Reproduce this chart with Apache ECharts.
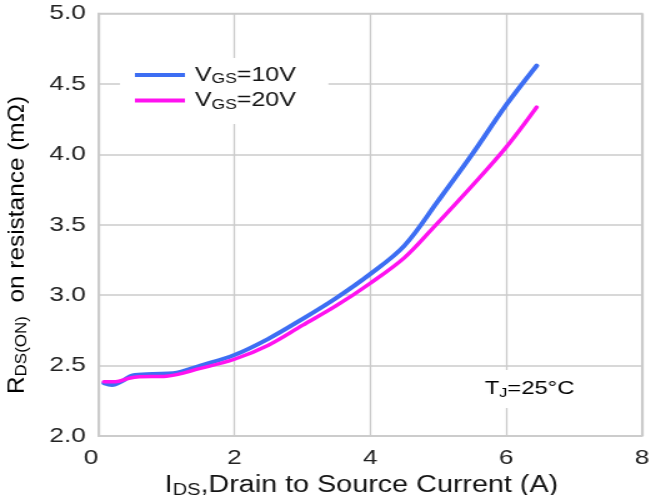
<!DOCTYPE html>
<html>
<head>
<meta charset="utf-8">
<script src="https://cdn.jsdelivr.net/npm/echarts@6/dist/echarts.min.js"></script>
<style>
  html, body { margin: 0; padding: 0; background: #fff; overflow: hidden; }
  #wrap { width: 651px; height: 495px; overflow: hidden; }
  /* the chart is laid out narrower and widened so its lettering gets the broad datasheet look */
  #chart { width: 521px; height: 495px; transform: scaleX(1.24952); transform-origin: 0 0; }
</style>
</head>
<body>
<div id="wrap"><div id="chart"></div></div>
<script>
const STRETCH = 651 / 521;
const FONT = '"Liberation Sans", Arial, Helvetica, sans-serif';

// axis ticks
const xTickLabels = ['0', '2', '4', '6', '8'];
const yTickLabels = ['2.0', '2.5', '3.0', '3.5', '4.0', '4.5', '5.0'];

// series names
const seriesNames = ['VGS=10V', 'VGS=20V'];

// drain current I_DS (A) and on-resistance R_DS(ON) (mΩ), VGS = 10 V
const currentVgs10 = [0.08, 0.2, 0.35, 0.5, 0.8, 1.1, 1.5, 2.0, 2.5, 3.0, 3.5, 4.0, 4.5, 5.0, 5.5, 6.0, 6.45];
const rdsonVgs10   = [2.375, 2.362, 2.39, 2.43, 2.44, 2.445, 2.50, 2.575, 2.69, 2.83, 2.98, 3.15, 3.35, 3.67, 4.0, 4.35, 4.63];

// VGS = 20 V
const currentVgs20 = [0.08, 0.25, 0.45, 0.6, 1.0, 1.5, 2.0, 2.5, 3.0, 3.5, 4.0, 4.5, 4.92, 5.5, 6.0, 6.45];
const rdsonVgs20   = [2.385, 2.385, 2.41, 2.42, 2.425, 2.48, 2.545, 2.645, 2.785, 2.925, 3.085, 3.265, 3.475, 3.777, 4.05, 4.335];

const seriesColors = ['#3d6ef3', '#ff12f0'];

const pairs = (xs, ys) => xs.map((x, i) => [x, ys[i]]);

const xMin = Number(xTickLabels[0]);
const xMax = Number(xTickLabels[xTickLabels.length - 1]);
const xStep = Number(xTickLabels[1]) - xMin;
const yMin = Number(yTickLabels[0]);
const yMax = Number(yTickLabels[yTickLabels.length - 1]);
const yStep = Number(yTickLabels[1]) - yMin;

const GRID_COLOR = '#cbcbcb';
const TEXT_COLOR = '#141414';

// rich styles for a main run and a lowered subscript run
function subRich(mainSize, subSize, lineH, subLineH) {
  return {
    v: { fontFamily: FONT, fontSize: mainSize, color: TEXT_COLOR, lineHeight: lineH },
    s: { fontFamily: FONT, fontSize: subSize, color: TEXT_COLOR, lineHeight: subLineH, verticalAlign: 'bottom' }
  };
}

const chart = echarts.init(document.getElementById('chart'), null, { renderer: 'canvas' });

const option = {
  animation: false,
  backgroundColor: '#fff',
  grid: {
    show: true,
    left: 78.8,
    right: 7.2,
    top: 13.5,
    bottom: 59,
    borderColor: GRID_COLOR,
    borderWidth: 1.5,
    containLabel: false,
    outerBoundsMode: 'none'
  },
  legend: {
    orient: 'vertical',
    left: 96,
    top: 58,
    icon: 'rect',
    itemWidth: 40,
    itemHeight: 4,
    itemGap: 4,
    padding: [7, 26, 12, 12],
    backgroundColor: '#fff',
    data: seriesNames,
    formatter: name => name.replace('VGS', '{v|V}{s|GS}{v|') + '}',
    textStyle: {
      fontFamily: FONT,
      fontSize: 20,
      color: TEXT_COLOR,
      padding: [0, 0, 0, 3],
      rich: subRich(20, 14, 23, 12)
    }
  },
  xAxis: {
    type: 'value',
    min: xMin,
    max: xMax,
    interval: xStep,
    axisLine: { show: true, lineStyle: { color: GRID_COLOR, width: 1.5 } },
    axisTick: { show: false },
    splitLine: { show: true, lineStyle: { color: GRID_COLOR, width: 1.3 } },
    axisLabel: {
      fontFamily: FONT,
      fontSize: 21,
      color: '#222',
      margin: 12,
      alignMinLabel: 'right',
      formatter: v => xTickLabels.find(t => Number(t) === v) ?? String(v)
    },
    name: '{v|I}{s|DS}{v|,Drain to Source Current (A)}',
    nameLocation: 'middle',
    nameGap: 20,
    nameTextStyle: {
      fontFamily: FONT,
      fontSize: 23,
      color: TEXT_COLOR,
      padding: [0, 14, 0, 0],
      rich: subRich(23, 16, 26, 13)
    }
  },
  yAxis: {
    type: 'value',
    min: yMin,
    max: yMax,
    interval: yStep,
    axisLine: { show: true, lineStyle: { color: GRID_COLOR, width: 1.5 } },
    axisTick: { show: false },
    splitLine: { show: true, lineStyle: { color: GRID_COLOR, width: 1.5 } },
    axisLabel: {
      fontFamily: FONT,
      fontSize: 21,
      color: '#222',
      margin: 10,
      formatter: v => yTickLabels.find(t => Number(t) === Number(v.toFixed(1))) ?? v.toFixed(1)
    }
  },
  series: [
    {
      name: seriesNames[0],
      type: 'line',
      data: pairs(currentVgs10, rdsonVgs10),
      smooth: 0.35,
      showSymbol: false,
      itemStyle: { color: seriesColors[0] },
      lineStyle: { color: seriesColors[0], width: 4, cap: 'round', join: 'round' },
      z: 3
    },
    {
      name: seriesNames[1],
      type: 'line',
      data: pairs(currentVgs20, rdsonVgs20),
      smooth: 0.35,
      showSymbol: false,
      itemStyle: { color: seriesColors[1] },
      lineStyle: { color: seriesColors[1], width: 3.5, cap: 'round', join: 'round' },
      z: 4
    }
  ],
  graphic: [
    {
      // vertical axis title, widened along its reading direction only
      type: 'text',
      x: 13.6,
      y: 245,
      rotation: Math.PI / 2,
      scaleX: 1.06,
      scaleY: 1 / STRETCH,
      z: 10,
      style: {
        text: '{v|R}{s|DS(ON)}{v|  on resistance (mΩ)}',
        align: 'center',
        verticalAlign: 'middle',
        rich: subRich(23, 16, 26, 13)
      }
    },
    {
      // junction temperature note
      type: 'text',
      x: 384,
      y: 389,
      z: 10,
      style: {
        text: '{v|T}{s|J}{v|=25°C}',
        align: 'left',
        verticalAlign: 'middle',
        backgroundColor: '#fff',
        padding: [8, 4, 8, 4],
        rich: subRich(19, 13, 22, 11)
      }
    }
  ]
};

chart.setOption(option);
</script>
</body>
</html>
